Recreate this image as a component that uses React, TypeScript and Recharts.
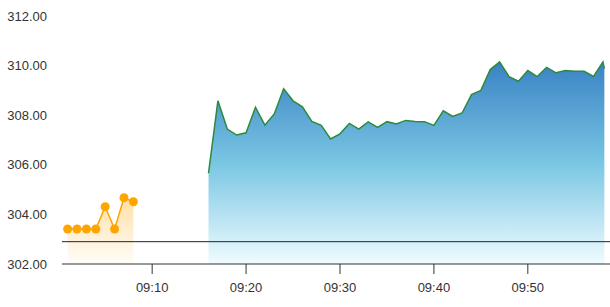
import {
  Area,
  ComposedChart,
  ReferenceLine,
  XAxis,
  YAxis,
} from "recharts";

// minutes after 09:00
const preTimes = [1, 2, 3, 4, 5, 6, 7, 8];
const prePrices = [303.41, 303.41, 303.41, 303.41, 304.31, 303.41, 304.67, 304.51];

const mainTimes = [
  16, 17, 18, 19, 20, 21, 22, 23, 24, 25, 26, 27, 28, 29, 30, 31, 32, 33, 34,
  35, 36, 37, 38, 39, 40, 41, 42, 43, 44, 45, 46, 47, 48, 49, 50, 51, 52, 53,
  54, 55, 56, 57, 58, 58.15,
];
const mainPrices = [
  305.66, 308.58, 307.44, 307.2, 307.29, 308.32, 307.6, 308.05, 309.07, 308.58,
  308.34, 307.75, 307.59, 307.04, 307.25, 307.67, 307.44, 307.73, 307.51,
  307.74, 307.65, 307.79, 307.75, 307.74, 307.59, 308.18, 307.95, 308.09,
  308.83, 309.0, 309.84, 310.15, 309.55, 309.37, 309.8, 309.56, 309.93, 309.71,
  309.8, 309.77, 309.77, 309.56, 310.15, 309.88,
];

const prevClose = 302.9;
const yTicks = [302, 304, 306, 308, 310, 312];
const xTicks = [10, 20, 30, 40, 50];

type Row = { t: number; pre?: number; main?: number };

const data: Row[] = [
  ...preTimes.map((t, i) => ({ t, pre: prePrices[i] })),
  ...mainTimes.map((t, i) => ({ t, main: mainPrices[i] })),
];

const fmtTime = (m: number) => `09:${String(Math.floor(m)).padStart(2, "0")}`;

const tickStyle = {
  fill: "#333",
  fontSize: 13,
  fontFamily: "'Liberation Sans', Arial, sans-serif",
};

export default function App() {
  return (
    <div style={{ position: "fixed", left: 0, top: 0, background: "#fff" }}>
      <ComposedChart
        width={610}
        height={307}
        data={data}
        margin={{ top: 16, right: 0, bottom: 0, left: 0 }}
      >
        <defs>
          <linearGradient id="mainFill" x1="0" y1="0" x2="0" y2="1">
            <stop offset="0%" stopColor="#3a82c4" />
            <stop offset="50%" stopColor="#79c6e3" />
            <stop offset="100%" stopColor="#effcff" />
          </linearGradient>
          <linearGradient id="preFill" x1="0" y1="0" x2="0" y2="1">
            <stop offset="0%" stopColor="#ffa500" stopOpacity={0.35} />
            <stop offset="100%" stopColor="#ffa500" stopOpacity={0.02} />
          </linearGradient>
        </defs>
        <XAxis
          dataKey="t"
          type="number"
          domain={[0.4, 58.75]}
          ticks={xTicks}
          tickFormatter={fmtTime}
          height={43}
          tickSize={10}
          tickMargin={9}
          stroke="#333"
          tick={tickStyle}
          allowDataOverflow
        />
        <YAxis
          domain={[302, 312]}
          ticks={yTicks}
          tickFormatter={(v: number) => v.toFixed(2)}
          width={62}
          axisLine={false}
          tickLine={false}
          tickSize={0}
          tickMargin={15}
          tick={tickStyle}
          allowDataOverflow
        />
        <Area
          type="linear"
          dataKey="pre"
          stroke="#ffa500"
          strokeWidth={1.5}
          fill="url(#preFill)"
          fillOpacity={1}
          dot={{ r: 4.5, fill: "#ffa500", stroke: "none" }}
          activeDot={false}
          isAnimationActive={false}
        />
        <Area
          type="linear"
          dataKey="main"
          stroke="#2b8a3e"
          strokeWidth={1.5}
          fill="url(#mainFill)"
          fillOpacity={1}
          dot={false}
          activeDot={false}
          isAnimationActive={false}
        />
        <ReferenceLine y={prevClose} stroke="#222" strokeWidth={1} />
      </ComposedChart>
    </div>
  );
}
